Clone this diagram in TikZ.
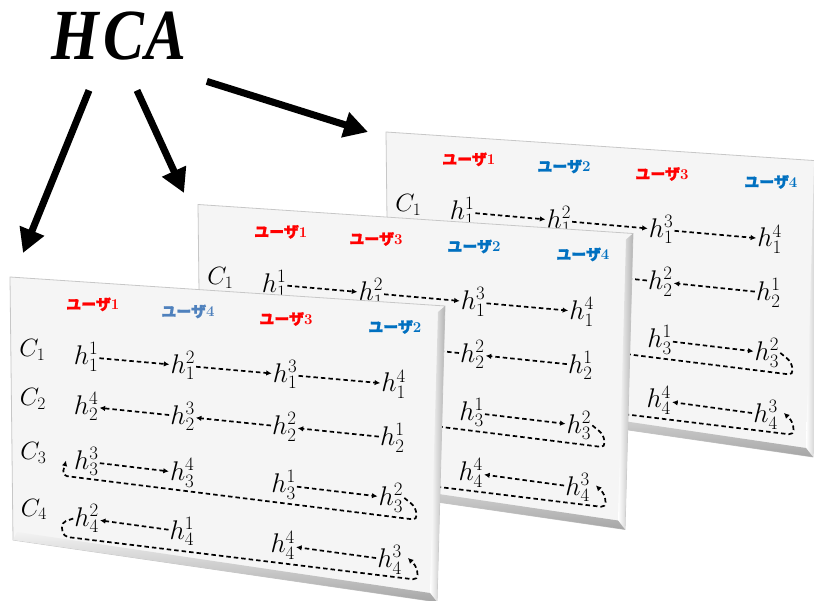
\documentclass[tikz,border=0pt]{standalone}
\usepackage{fix-cm}
\usepackage{amsmath}
\usepackage{fontspec}
\usepackage{graphicx}
\usetikzlibrary{arrows.meta,calc,positioning}
\newfontfamily\jpfont{Noto Sans CJK JP}[FakeBold=1.2]
\newfontfamily\hcafont{Liberation Serif}
\definecolor{ured}{RGB}{255,0,0}
\definecolor{ublue}{RGB}{0,112,192}
\definecolor{ulblue}{RGB}{79,129,189}

\tikzset{
  panel/.style={fill=black!4, draw=black!22, line width=0.8pt},
  hv/.style={inner sep=1pt, font=\fontsize{27}{30}\selectfont},
  cl/.style={inner sep=1pt, font=\fontsize{25}{28}\selectfont},
  ulab/.style={inner sep=1pt, font=\jpfont\bfseries\fontsize{15}{17}\selectfont},
  dasharr/.style={line width=1.7pt, dash pattern=on 4.5pt off 3pt,
    -{Latex[length=5.5pt,width=5.5pt]}},
  bigarr/.style={line width=7pt, -{Triangle[length=24pt,width=25pt]}},
}

\begin{document}
\begin{tikzpicture}[x=1pt, y=-1pt]
\useasboundingbox (0,0) rectangle (814,601);
\clip (0,0) rectangle (814,601);

% --- titolo e frecce ---
\node[inner sep=0pt, font=\hcafont\bfseries\itshape\fontsize{72}{72}\selectfont]
  (hca) at (119,36) {\scalebox{.85}[1]{H\kern5pt C\kern2pt A}};
\coordinate (t1) at (23,253);
\coordinate (t2) at (184,193);
\coordinate (t3) at (368,132);
\draw[bigarr] ($(hca.south)+(-30,30)$) -- (t1);
\draw[bigarr] ($(hca.south)+(18,30)$) -- (t2);
\draw[bigarr] ($(hca.south east)+(20,21)$) -- (t3);

% --- tre pannelli (dietro -> davanti); \hide nasconde cio' che e' coperto ---
\foreach \dx/\dy/\la/\ca/\lb/\cb/\lc/\cc/\ld/\cd/\hide in {
    376/-145/1/ured/2/ublue/3/ured/4/ublue/\phantom,
    188/-72.5/1/ured/3/ured/2/ublue/4/ublue/\phantom,
    0/0/1/ured/4/ulblue/3/ured/2/ublue/\relax}{
\begin{scope}[shift={(\dx,\dy)}]
  \coordinate (tl) at (10,277);
  \coordinate (tr) at (445,306);
  \coordinate (br) at (437,602);
  \coordinate (bl) at (13,540);
  \fill[panel] (tl) -- (tr) -- (br) -- (bl) -- cycle;
  % bordo smussato
  \shade[left color=white, right color=black!30]
    (tr) -- (br) -- ($(br)+(-7,-9)$) -- ($(tr)+(-7,6)$) -- cycle;
  \shade[top color=black!5, bottom color=black!35]
    (bl) -- (br) -- ($(br)+(-7,-9)$) -- ($(bl)+(4,-8)$) -- cycle;
  % griglia (interpolazione bilineare)
  \foreach \c/\u in {0/.05,1/.174,2/.398,3/.635,4/.886}{
    \coordinate (T) at ($(tl)!\u!(tr)$);
    \coordinate (B) at ($(bl)!\u!(br)$);
    \foreach \r/\v in {0/.083,1/.279,2/.463,3/.668,4/.88}
      \coordinate (g\c\r) at ($(T)!\v!(B)$);
  }
  % utenti
  \node[ulab, text=\ca] (u1) at ($(g10)+(7,0)$) {ユーザ\textrm{\la}};
  \node[ulab, text=\cb] (u2) at ($(g20)+(5,0)$) {ユーザ\textrm{\lb}};
  \node[ulab, text=\cc] (u3) at (g30) {ユーザ\textrm{\lc}};
  \node[ulab, text=\cd] (u4) at (g40) {ユーザ\textrm{\ld}};
  % cluster
  \node[cl] (c1) at ($(g01)+(0,-2)$) {$C_1$};
  \foreach \r in {2,3,4}
    \node[cl] (c\r) at ($(g0\r)+(0,-2)$) {\hide{$C_\r$}};
  % stati nascosti (ultimo campo: 1 = coperto nei pannelli dietro)
  \foreach \c/\r/\s/\p/\q in {1/1/1/1/0, 2/1/1/2/0, 3/1/1/3/0, 4/1/1/4/0,
                              1/2/2/4/1, 2/2/2/3/1, 3/2/2/2/0, 4/2/2/1/0,
                              1/3/3/3/1, 2/3/3/4/1, 3/3/3/1/0, 4/3/3/2/0,
                              1/4/4/2/1, 2/4/4/1/1, 3/4/4/4/0, 4/4/4/3/0}
    \node[hv] (h\s\p) at (g\c\r)
      {\ifnum\q=1 \hide{$h_\s^\p$}\else $h_\s^\p$\fi};
  \foreach \a/\b in {h11/h12, h12/h13, h13/h14, h21/h22, h22/h23, h23/h24,
                     h31/h32, h33/h34, h41/h42, h43/h44}
    \draw[dasharr] (\a) -- (\b);
  % giri di ritorno
  \draw[dasharr, rounded corners=5pt] (h32.east) -- ($(h32.east)+(11,9)$)
    -- ($(h32.east)+(13,22)$) -- ($(h33.west)+(-11,14)$) -- ($(h33.west)+(-7,-1)$);
  \draw[dasharr, rounded corners=5pt] (h42.west) -- ($(h42.west)+(-12,4)$)
    -- ($(h42.west)+(-10,18)$) -- ($(h43.east)+(15,20)$) -- ($(h43.east)+(14,7)$)
    -- ($(h43.east)+(5,-2)$);
\end{scope}
}

\end{tikzpicture}
\end{document}
